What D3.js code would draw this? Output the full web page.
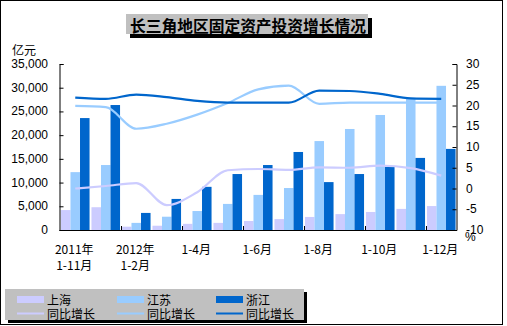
<!DOCTYPE html>
<html><head><meta charset="utf-8">
<script src="https://cdn.jsdelivr.net/npm/d3@7/dist/d3.min.js"></script>
<style>
html,body{margin:0;padding:0;background:#fff;}
svg{display:block;}
text{font-family:"Liberation Sans",Arial,sans-serif;}
.cjk{font-family:"Noto Sans CJK SC","Liberation Sans",sans-serif;}
</style></head>
<body>
<svg id="c" width="507" height="326"></svg>
<script>
const categories = ["2011年1-11月","2011年1-12月","2012年1-2月","1-3月","1-4月","1-5月","1-6月","1-7月","1-8月","1-9月","1-10月","1-11月","1-12月"];
const tickLabels = [["2011年","1-11月"],null,["2012年","1-2月"],null,["1-4月"],null,["1-6月"],null,["1-8月"],null,["1-10月"],null,["1-12月"]];
const shanghai = [4200, 4800, 700, 900, 1300, 1500, 1900, 2300, 2750, 3350, 3800, 4450, 5050];
const jiangsu  = [12200, 13700, 1500, 2800, 4000, 5500, 7400, 8850, 18750, 21300, 24250, 27800, 30400];
const zhejiang = [23600, 26350, 3600, 6550, 9100, 11800, 13700, 16450, 10100, 11800, 13300, 15200, 17100];
const shGrowth = [0, 0.6, 1.3, -4.0, -0.9, 4.4, 4.7, 4.5, 5.1, 5.0, 5.5, 4.9, 3.1];
const jsGrowth = [19.9, 19.6, 14.4, 15.6, 17.8, 20.6, 23.9, 24.8, 20.4, 20.7, 20.7, 20.7, 20.7];
const zjGrowth = [21.9, 21.6, 22.6, 22.0, 21.1, 20.7, 20.7, 20.7, 23.6, 23.5, 22.8, 21.7, 21.6];
const leftTicks = [0,5000,10000,15000,20000,25000,30000,35000];
const rightTicks = [-10,-5,0,5,10,15,20,25,30];
const seriesNames = ["上海","江苏","浙江"];
const colors = ["#CCCCFF","#99CCFF","#0066CC"];

const svg = d3.select("#c");
const L=60, R=456.5, T=64, B=230;

// outer border
svg.append("rect").attr("x",0.5).attr("y",0.5).attr("width",502).attr("height",324)
  .attr("fill","#fff").attr("stroke","#000").attr("stroke-width",1);

// title
svg.append("rect").attr("x",130).attr("y",18).attr("width",242).attr("height",20).attr("fill","#000");
svg.append("rect").attr("x",126).attr("y",14).attr("width",242).attr("height",20).attr("fill","#C0C0C0");
svg.append("text").attr("class","cjk").attr("x",130).attr("y",24.5)
  .attr("dominant-baseline","central").attr("font-size",16).attr("font-weight","bold")
  .attr("textLength",236).attr("lengthAdjust","spacingAndGlyphs")
  .attr("fill","#000").text("长三角地区固定资产投资增长情况");

const x = d3.scaleBand().domain(categories).range([L,R]).padding(0);
const xs = d3.scaleBand().domain(seriesNames).range([0,x.bandwidth()]).paddingInner(0).paddingOuter(0.1);
const yL = d3.scaleLinear().domain([0,35000]).range([B,T]);
const yR = d3.scaleLinear().domain([-10,30]).range([B,T]);

// bars
const data = [shanghai,jiangsu,zhejiang];
data.forEach((arr,si)=>{
  svg.append("g").selectAll("rect").data(arr).join("rect")
    .attr("x",(d,i)=>x(categories[i])+xs(seriesNames[si]))
    .attr("width",xs.bandwidth())
    .attr("y",d=>yL(d)).attr("height",d=>B-yL(d))
    .attr("fill",colors[si]);
});

// lines
const growth = [shGrowth,jsGrowth,zjGrowth];
const line = d3.line().x((d,i)=>x(categories[i])+x.bandwidth()/2).y(d=>yR(d)).curve(d3.curveMonotoneX);
growth.forEach((arr,si)=>{
  svg.append("path").datum(arr).attr("d",line).attr("fill","none")
    .attr("stroke",colors[si]).attr("stroke-width",2.2);
});

// axes
const gL = svg.append("g").attr("transform",`translate(${59.5},0)`)
  .call(d3.axisRight(yL).tickValues(leftTicks).tickSize(4).tickFormat(""));
const gR = svg.append("g").attr("transform",`translate(${456.5},0)`)
  .call(d3.axisLeft(yR).tickValues(rightTicks).tickSize(4).tickFormat(""));
[gL,gR].forEach(g=>{g.select(".domain").attr("stroke","#000");g.selectAll("line").attr("stroke","#000");});

svg.append("line").attr("x1",59.5).attr("x2",457).attr("y1",B+0.5).attr("y2",B+0.5).attr("stroke","#000");
const tickIdx = [2,4,6,8,10,12];
svg.append("g").selectAll("line").data(tickIdx).join("line")
  .attr("x1",i=>Math.round(x(categories[i]))+0.5).attr("x2",i=>Math.round(x(categories[i]))+0.5)
  .attr("y1",B-4).attr("y2",B).attr("stroke","#000");

// left tick labels
svg.append("g").selectAll("text").data(leftTicks).join("text")
  .attr("x",48).attr("y",d=>yL(d)).attr("text-anchor","end").attr("dominant-baseline","central")
  .attr("font-size",12).attr("fill","#000").text(d=>d3.format(",")(d));
// right tick labels
svg.append("g").selectAll("text").data(rightTicks).join("text")
  .attr("x",466).attr("y",d=>yR(d)).attr("text-anchor","start").attr("dominant-baseline","central")
  .attr("font-size",12).attr("fill","#000").text(d=>d);
svg.append("text").attr("x",465).attr("y",237).attr("dominant-baseline","central")
  .attr("font-size",12).text("%");
svg.append("text").attr("class","cjk").attr("x",12).attr("y",49).attr("dominant-baseline","central")
  .attr("font-size",12).text("亿元");

// x labels
tickLabels.forEach((lab,i)=>{
  if(!lab) return;
  const cx = x(categories[i])+x.bandwidth()/2 - 1;
  lab.forEach((t,j)=>{
    svg.append("text").attr("class","cjk").attr("x",cx).attr("y",248+j*16)
      .attr("text-anchor","middle").attr("dominant-baseline","central")
      .attr("font-size",12).attr("fill","#000").text(t);
  });
});

// legend
svg.append("rect").attr("x",8).attr("y",292).attr("width",299).attr("height",31).attr("fill","#000");
svg.append("rect").attr("x",5).attr("y",289).attr("width",299).attr("height",31).attr("fill","#C0C0C0");
const legX = [17,117,216];
seriesNames.forEach((n,i)=>{
  svg.append("rect").attr("x",legX[i]).attr("y",296).attr("width",27).attr("height",7).attr("fill",colors[i]);
  svg.append("text").attr("class","cjk").attr("x",legX[i]+30).attr("y",299.5).attr("dominant-baseline","central")
    .attr("font-size",12).attr("fill","#000").text(n);
  svg.append("line").attr("x1",legX[i]).attr("x2",legX[i]+27).attr("y1",313.5).attr("y2",313.5)
    .attr("stroke",colors[i]).attr("stroke-width",2);
  svg.append("text").attr("class","cjk").attr("x",legX[i]+30).attr("y",313.5).attr("dominant-baseline","central")
    .attr("font-size",12).attr("fill","#000").text("同比增长");
});
</script>
</body></html>
